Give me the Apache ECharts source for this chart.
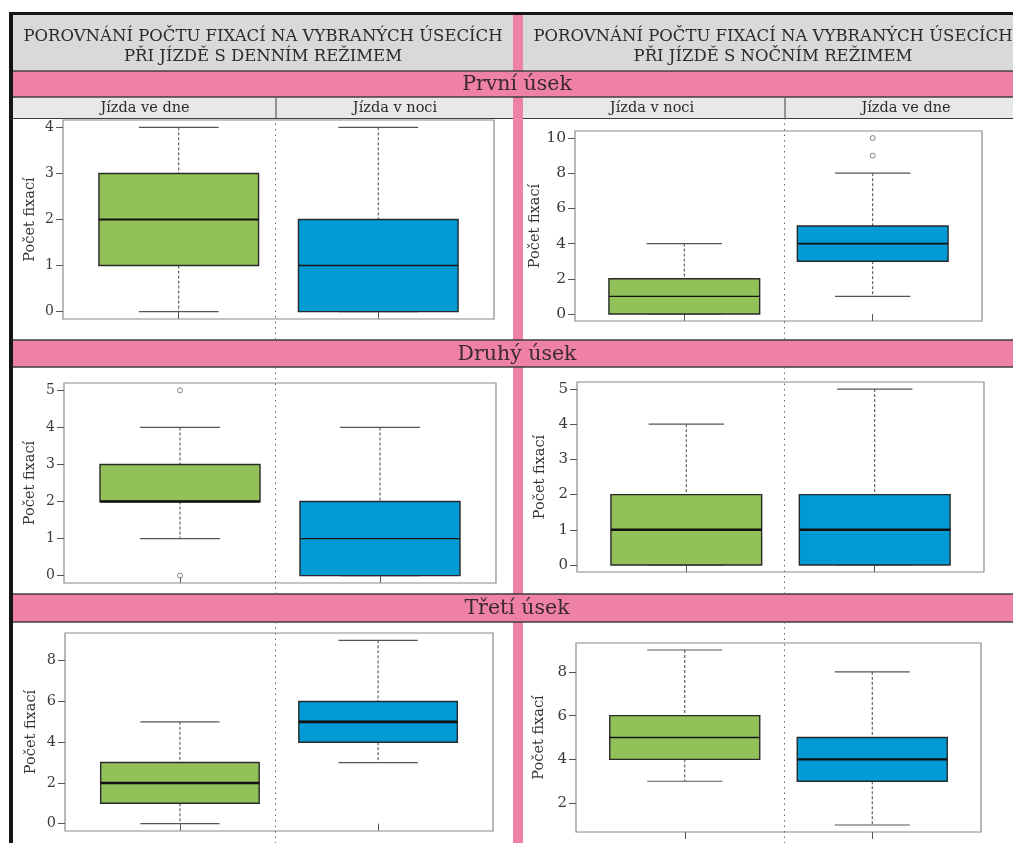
<!DOCTYPE html>
<html>
<head>
<meta charset="utf-8">
<title>Porovnání počtu fixací</title>
<script src="https://cdn.jsdelivr.net/npm/echarts@6/dist/echarts.min.js"></script>
<style>
  html, body { margin: 0; padding: 0; background: #fff; }
  #chart { width: 1013px; height: 843px; }
</style>
</head>
<body>
<div id="chart"></div>
<script>
// ---- texts ----
const headerDay = ['POROVNÁNÍ POČTU FIXACÍ NA VYBRANÝCH ÚSECÍCH', 'PŘI JÍZDĚ S DENNÍM REŽIMEM'];
const headerNight = ['POROVNÁNÍ POČTU FIXACÍ NA VYBRANÝCH ÚSECÍCH', 'PŘI JÍZDĚ S NOČNÍM REŽIMEM'];
const sectionTitles = ['První úsek', 'Druhý úsek', 'Třetí úsek'];
const groupsDay = ['Jízda ve dne', 'Jízda v noci'];
const groupsNight = ['Jízda v noci', 'Jízda ve dne'];
const yName = 'Počet fixací';

// ---- five-number summaries [min, Q1, median, Q3, max] (green box, blue box) ----
const daySec1 = [[0, 1, 2, 3, 4], [0, 0, 1, 2, 4]];
const daySec2 = [[1, 2, 2, 3, 4], [0, 0, 1, 2, 4]];
const daySec3 = [[0, 1, 2, 3, 5], [3, 4, 5, 6, 9]];
const nightSec1 = [[0, 0, 1, 2, 4], [1, 3, 4, 5, 8]];
const nightSec2 = [[0, 0, 1, 2, 4], [0, 0, 1, 2, 5]];
const nightSec3 = [[3, 4, 5, 6, 9], [1, 3, 4, 5, 8]];

// ---- outliers [box position, value] ----
const daySec1Out = [];
const daySec2Out = [[1, 0], [1, 5]];
const daySec3Out = [];
const nightSec1Out = [[2, 9], [2, 10]];
const nightSec2Out = [];
const nightSec3Out = [];

// ---- y-axis ranges and tick values ----
const daySec1Range = [-0.16, 4.16];   const daySec1Ticks = [0, 1, 2, 3, 4];
const daySec2Range = [-0.2, 5.2];     const daySec2Ticks = [0, 1, 2, 3, 4, 5];
const daySec3Range = [-0.36, 9.36];   const daySec3Ticks = [0, 2, 4, 6, 8];
const nightSec1Range = [-0.4, 10.4];  const nightSec1Ticks = [0, 2, 4, 6, 8, 10];
const nightSec2Range = [-0.2, 5.2];   const nightSec2Ticks = [0, 1, 2, 3, 4, 5];
const nightSec3Range = [0.68, 9.32];  const nightSec3Ticks = [2, 4, 6, 8];

const GREEN = '#92C15A';
const BLUE = '#009BD5';
const PINK = '#EF80A8';
const SERIF = '"DejaVu Serif", "Liberation Serif", serif';

// panel layout: plot-box rectangle in px, label font size, median widths
const panels = [
  { stats: daySec1, out: daySec1Out, range: daySec1Range, ticks: daySec1Ticks,
    box: [63, 120, 494, 319], font: 14, gap: 25, med: [2, 1.6] },
  { stats: nightSec1, out: nightSec1Out, range: nightSec1Range, ticks: nightSec1Ticks,
    box: [575, 131, 982, 321], font: 15.5, gap: 29, med: [1.4, 1.6] },
  { stats: daySec2, out: daySec2Out, range: daySec2Range, ticks: daySec2Ticks,
    box: [64, 383, 496, 583], font: 14, gap: 26, med: [2.6, 1.2] },
  { stats: nightSec2, out: nightSec2Out, range: nightSec2Range, ticks: nightSec2Ticks,
    box: [577, 382, 984, 572], font: 15, gap: 29, med: [2.4, 2.4] },
  { stats: daySec3, out: daySec3Out, range: daySec3Range, ticks: daySec3Ticks,
    box: [65, 633, 493, 831], font: 14.5, gap: 26, med: [2.6, 2.8] },
  { stats: nightSec3, out: nightSec3Out, range: nightSec3Range, ticks: nightSec3Ticks,
    box: [576, 643, 981, 832], font: 15, gap: 29, med: [1.4, 2.4] }
];

const grids = [], xAxes = [], yAxes = [], series = [];

panels.forEach((p, i) => {
  const [x1, y1, x2, y2] = p.box;
  grids.push({
    left: x1, top: y1, width: x2 - x1, height: y2 - y1,
    show: true, borderColor: '#8a8a8a', borderWidth: 1.2, backgroundColor: 'transparent'
  });
  xAxes.push({
    gridIndex: i, type: 'value', min: 0.42, max: 2.58,
    axisLine: { show: false }, splitLine: { show: false },
    axisTick: { show: true, customValues: [1, 2], length: 7, lineStyle: { color: '#555', width: 1 } },
    axisLabel: { show: false }
  });
  yAxes.push({
    gridIndex: i, type: 'value', min: p.range[0], max: p.range[1],
    axisLine: { show: false }, splitLine: { show: false },
    axisTick: { show: true, customValues: p.ticks, length: 7, lineStyle: { color: '#555', width: 1 } },
    axisLabel: { show: true, customValues: p.ticks, margin: 9, color: '#3a3a3a',
      fontFamily: SERIF, fontSize: p.font },
    name: yName, nameLocation: 'middle', nameRotate: 90, nameGap: p.gap,
    nameTextStyle: { fontFamily: SERIF, fontSize: 14.5, color: '#333' }
  });

  const boxData = p.stats.map((s, k) => ({
    value: [k + 1].concat(s),
    itemStyle: { color: k === 0 ? GREEN : BLUE },
    medW: p.med[k]
  }));

  series.push({
    type: 'custom', xAxisIndex: i, yAxisIndex: i,
    data: boxData,
    renderItem: function (params, api) {
      const x = api.value(0);
      const mn = api.value(1), q1 = api.value(2), md = api.value(3), q3 = api.value(4), mx = api.value(5);
      const hw = 0.4, cw = 0.2;
      const pTop = api.coord([x, mx]), pQ3 = api.coord([x, q3]);
      const pQ1 = api.coord([x, q1]), pBot = api.coord([x, mn]);
      const bl = api.coord([x - hw, q1]), tr = api.coord([x + hw, q3]);
      const capL = api.coord([x - cw, mx])[0], capR = api.coord([x + cw, mx])[0];
      const medY = api.coord([x, md])[1];
      const medW = boxData[params.dataIndex].medW;
      const whisk = { stroke: '#444', lineWidth: 1, lineDash: [3, 2] };
      const cap = { stroke: '#555', lineWidth: 1.2 };
      return {
        type: 'group',
        children: [
          { type: 'line', shape: { x1: pTop[0], y1: pTop[1], x2: pQ3[0], y2: pQ3[1] }, style: whisk },
          { type: 'line', shape: { x1: pQ1[0], y1: pQ1[1], x2: pBot[0], y2: pBot[1] }, style: whisk },
          { type: 'line', shape: { x1: capL, y1: pTop[1], x2: capR, y2: pTop[1] }, style: cap },
          { type: 'line', shape: { x1: capL, y1: pBot[1], x2: capR, y2: pBot[1] }, style: cap },
          { type: 'rect', shape: { x: bl[0], y: tr[1], width: tr[0] - bl[0], height: bl[1] - tr[1] },
            style: { fill: api.visual('color'), stroke: '#2a2a2a', lineWidth: 1.4 } },
          { type: 'line', shape: { x1: bl[0], y1: medY, x2: tr[0], y2: medY },
            style: { stroke: '#111', lineWidth: medW } }
        ]
      };
    }
  });

  if (p.out.length) {
    series.push({
      type: 'scatter', xAxisIndex: i, yAxisIndex: i, data: p.out,
      symbol: 'circle', symbolSize: 5,
      itemStyle: { color: '#fff', borderColor: '#666', borderWidth: 1 }
    });
  }
});

// ---- frame, header bars, section bands ----
const dark = '#3c3c3c';
const g = [];
function rect(x, y, w, h, fill, z) { g.push({ type: 'rect', z: z || 1, shape: { x, y, width: w, height: h }, style: { fill } }); }
function hline(x1, x2, y, w, c) { g.push({ type: 'line', z: 3, shape: { x1, y1: y, x2, y2: y }, style: { stroke: c || dark, lineWidth: w || 1.4 } }); }
function vline(x, y1, y2, style) { g.push({ type: 'line', z: 3, shape: { x1: x, y1, x2: x, y2 }, style }); }
function text(str, x, y, size, color, z) {
  g.push({ type: 'text', z: z || 5, x, y, style: { text: str, fill: color || '#2b2b2b', fontFamily: SERIF,
    fontSize: size, align: 'center', verticalAlign: 'middle' } });
}

// header blocks
rect(13, 15, 500, 55, '#D9D9D9');
rect(523, 15, 500, 55, '#D9D9D9');
text(headerDay[0], 263, 37, 16.5);
text(headerDay[1], 263, 57, 16.5);
text(headerNight[0], 773, 37, 16.5);
text(headerNight[1], 773, 57, 16.5);

// sub-header row with group names
rect(13, 98, 500, 20, '#E8E8E8');
rect(523, 98, 500, 20, '#E8E8E8');
vline(276, 98, 118, { stroke: dark, lineWidth: 1 });
vline(785, 98, 118, { stroke: dark, lineWidth: 1 });
text(groupsDay[0], 145, 108, 14.5);
text(groupsDay[1], 395, 108, 14.5);
text(groupsNight[0], 652, 108, 14.5);
text(groupsNight[1], 906, 108, 14.5);
hline(13, 513, 118.5, 1.2);
hline(523, 1013, 118.5, 1.2);

// pink column between the two halves
rect(513, 15, 10, 828, PINK, 2);

// section bands
const bands = [[71, 97], [340, 367], [594, 622]];
bands.forEach((b, k) => {
  rect(13, b[0], 1000, b[1] - b[0], PINK, 2);
  hline(13, 1013, b[0], 1.4);
  hline(13, 1013, b[1], 1.4);
  text(sectionTitles[k], 517, (b[0] + b[1]) / 2 + 1, 20.5, '#3a2a30', 6);
});

// dotted separators between the two groups of each panel
const spans = [[118, 340], [367, 594], [622, 843]];
spans.forEach(s => {
  vline(275.5, s[0], s[1], { stroke: '#666', lineWidth: 1, lineDash: [1.5, 4] });
  vline(784.5, s[0], s[1], { stroke: '#666', lineWidth: 1, lineDash: [1.5, 4] });
});

// outer black frame
rect(10, 12, 1003, 3, '#151515', 4);
rect(9, 12, 4, 831, '#151515', 4);

const chart = echarts.init(document.getElementById('chart'), null, { renderer: 'canvas' });
chart.setOption({
  backgroundColor: '#ffffff',
  animation: false,
  grid: grids,
  xAxis: xAxes,
  yAxis: yAxes,
  series: series,
  graphic: { elements: g }
});
</script>
</body>
</html>
